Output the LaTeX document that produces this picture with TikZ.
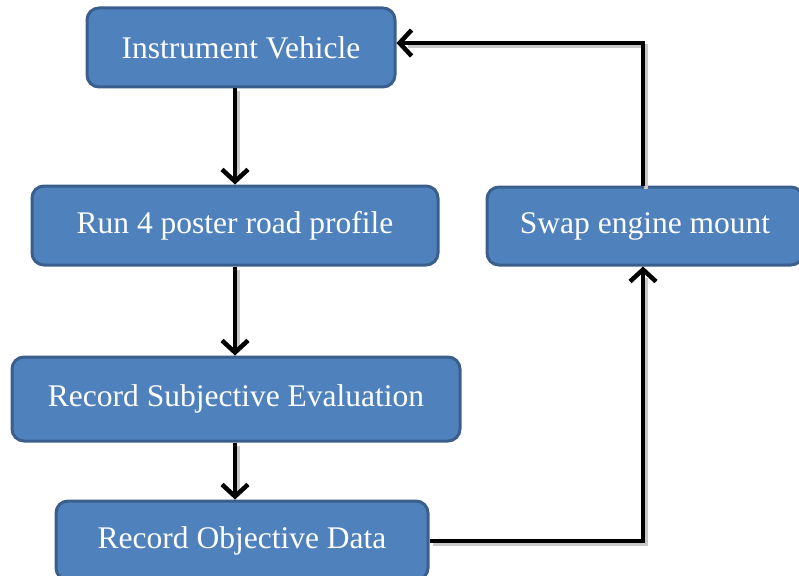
\documentclass[tikz,border=0pt]{standalone}
\usepackage{fontspec}
\setmainfont{Liberation Serif}
\usetikzlibrary{arrows.meta}
\definecolor{boxfill}{HTML}{4F81BD}
\definecolor{boxline}{HTML}{3A5F8C}
\definecolor{shade}{HTML}{C8C8C8}
\tikzset{
  stepbox/.style={draw=boxline, fill=boxfill, line width=3pt, rounded corners=12pt,
    text=white, font=\fontsize{31.5}{36}\selectfont, inner sep=0pt, anchor=center},
  flow/.style={line width=4.5pt, -{Straight Barb[length=12pt,width=26pt,line width=4.5pt]}, line join=miter},
  flowshadow/.style={line width=4.5pt, draw=shade, line join=miter, shorten >=8pt, transform canvas={xshift=3pt,yshift=-3pt}}
}
\begin{document}
\begin{tikzpicture}[x=1pt,y=-1pt]
\useasboundingbox (0,0) rectangle (799,575);
\clip (0,0) rectangle (799,575);
\node[stepbox, minimum width=308pt, minimum height=79pt] (iv) at (241,47.5) {Instrument Vehicle};
\node[stepbox, minimum width=406pt, minimum height=79pt] (run) at (235,225.5) {Run 4 poster road profile};
\node[stepbox, minimum width=448pt, minimum height=84pt] (rse) at (236,399) {Record Subjective Evaluation};
\node[stepbox, minimum width=372pt, minimum height=79pt] (rod) at (242,540.5) {Record Objective Data};
\node[stepbox, minimum width=316pt, minimum height=78pt] (swap) at (645,226) {Swap engine mount};
\coordinate (col) at (235,0);
\coordinate (c1) at (643,541);
\coordinate (c2) at (643,43);
% shadows
\draw[flowshadow] (iv.south -| col) -- (run.north -| col);
\draw[flowshadow] (run.south -| col) -- (rse.north -| col);
\draw[flowshadow] (rse.south -| col) -- (rod.north -| col);
\draw[flowshadow] (rod.east |- c1) -- (c1) -- (swap.south -| c1);
\draw[flowshadow] (swap.north -| c1) -- (c2) -- (iv.east |- c2);
% connectors
\draw[flow] (iv.south -| col) -- (run.north -| col);
\draw[flow] (run.south -| col) -- (rse.north -| col);
\draw[flow] (rse.south -| col) -- (rod.north -| col);
\draw[flow] (rod.east |- c1) -- (c1) -- (swap.south -| c1);
\draw[flow] (swap.north -| c1) -- (c2) -- (iv.east |- c2);
\end{tikzpicture}
\end{document}
